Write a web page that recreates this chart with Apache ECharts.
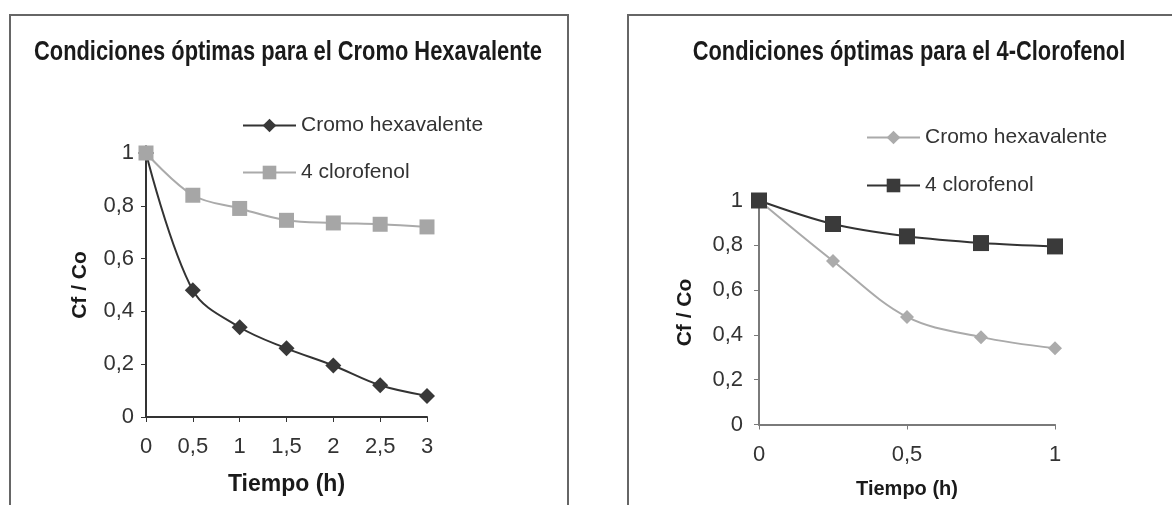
<!DOCTYPE html>
<html>
<head>
<meta charset="utf-8">
<script src="https://cdn.jsdelivr.net/npm/echarts@6/dist/echarts.min.js"></script>
<style>
  html, body { margin: 0; padding: 0; background: #fff; }
  #wrap { position: relative; width: 1172px; height: 505px; overflow: hidden; }
  #left { position: absolute; left: 0; top: 0; width: 586px; height: 505px; }
  #right { position: absolute; left: 586px; top: 0; width: 586px; height: 505px; }
</style>
</head>
<body>
<div id="wrap"><div id="left"></div><div id="right"></div></div>
<script>
// ---- data ----
const titleLeft = 'Condiciones óptimas para el Cromo Hexavalente';
const titleRight = 'Condiciones óptimas para el 4-Clorofenol';
const seriesNames = ['Cromo hexavalente', '4 clorofenol'];
const xName = 'Tiempo (h)';
const yName = 'Cf / Co';

const timeLeft = [0, 0.5, 1, 1.5, 2, 2.5, 3];
const cromoLeft = [1, 0.48, 0.34, 0.26, 0.195, 0.12, 0.08];
const cloroLeft = [1, 0.84, 0.79, 0.745, 0.735, 0.73, 0.72];

const timeRight = [0, 0.25, 0.5, 0.75, 1];
const cromoRight = [1, 0.73, 0.48, 0.39, 0.34];
const cloroRight = [1, 0.895, 0.84, 0.81, 0.795];

// ---- helpers ----
const pairs = (xs, ys) => xs.map((x, i) => [x, ys[i]]);
const fmt = v => String(Math.round(v * 100) / 100).replace('.', ',');
const BASE = '"Liberation Sans", Arial, sans-serif';

function build(cfg) {
  return {
    animation: false,
    graphic: [
      {
        type: 'rect',
        shape: { x: cfg.frame[0], y: 15, width: cfg.frame[1] - cfg.frame[0], height: 600 },
        style: { fill: 'none', stroke: '#666', lineWidth: 2 },
        silent: true
      },
      {
        type: 'text',
        x: cfg.titleX, y: 53,
        scaleX: 0.81,
        silent: true,
        style: {
          text: cfg.title,
          fontFamily: BASE, fontWeight: 'bold', fontSize: 27,
          fill: '#1a1a1a',
          align: 'center', verticalAlign: 'middle',
          textAlign: 'center', textVerticalAlign: 'middle'
        }
      }
    ],
    legend: {
      orient: 'vertical',
      left: cfg.legendX,
      top: cfg.legendY,
      itemWidth: 53,
      itemHeight: 17,
      itemGap: cfg.legendGap,
      padding: 0,
      data: seriesNames,
      textStyle: { fontFamily: BASE, fontSize: 21, color: '#333', lineHeight: 20 }
    },
    grid: { left: cfg.grid[0], top: cfg.grid[1], width: cfg.grid[2], height: cfg.grid[3], containLabel: false },
    xAxis: {
      type: 'value',
      min: 0, max: cfg.xMax, interval: 0.5,
      name: xName, nameLocation: 'middle', nameGap: cfg.xNameGap,
      nameTextStyle: { fontFamily: BASE, fontWeight: 'bold', fontSize: cfg.xNameSize, color: '#1a1a1a' },
      axisLine: { show: true, lineStyle: { color: cfg.axisColor, width: 2 } },
      axisTick: { show: true, length: 5, lineStyle: { color: cfg.axisColor, width: 1 } },
      axisLabel: { fontFamily: BASE, fontSize: 22, color: '#333', margin: cfg.xLabelMargin, formatter: fmt },
      splitLine: { show: false }
    },
    yAxis: {
      type: 'value',
      min: 0, max: 1, interval: 0.2,
      name: yName, nameLocation: 'middle', nameGap: cfg.yNameGap, nameRotate: 90,
      nameTextStyle: { fontFamily: BASE, fontWeight: 'bold', fontSize: 21, color: '#1a1a1a' },
      axisLine: { show: true, lineStyle: { color: cfg.axisColor, width: 2 } },
      axisTick: { show: true, length: 5, lineStyle: { color: cfg.axisColor, width: 1 } },
      axisLabel: { fontFamily: BASE, fontSize: 22, color: '#333', margin: cfg.yLabelMargin, formatter: fmt },
      splitLine: { show: false }
    },
    series: [
      {
        name: seriesNames[0], type: 'line', smooth: 0.35,
        data: pairs(cfg.x, cfg.cromo),
        symbol: 'diamond', symbolSize: cfg.cromoStyle.size,
        lineStyle: { color: cfg.cromoStyle.line, width: 2 },
        itemStyle: { color: cfg.cromoStyle.fill, borderWidth: 0 },
        z: 2
      },
      {
        name: seriesNames[1], type: 'line', smooth: 0.35,
        data: pairs(cfg.x, cfg.cloro),
        symbol: 'rect', symbolSize: cfg.cloroStyle.size,
        lineStyle: { color: cfg.cloroStyle.line, width: 2 },
        itemStyle: { color: cfg.cloroStyle.fill, borderWidth: 0 },
        z: 3
      }
    ]
  };
}

const leftChart = echarts.init(document.getElementById('left'), null, { renderer: 'canvas' });
leftChart.setOption(build({
  frame: [10, 568],
  title: titleLeft, titleX: 288,
  legendX: 242, legendY: 115, legendGap: 26,
  grid: [146, 153, 281, 264],
  xMax: 3, xNameGap: 56, xNameSize: 23, yNameGap: 55, yLabelMargin: 12, xLabelMargin: 19,
  axisColor: '#333',
  x: timeLeft, cromo: cromoLeft, cloro: cloroLeft,
  cromoStyle: { size: 16, line: '#333', fill: '#383838' },
  cloroStyle: { size: 15, line: '#aaa', fill: '#a6a6a6' }
}));

const rightChart = echarts.init(document.getElementById('right'), null, { renderer: 'canvas' });
rightChart.setOption(build({
  frame: [42, 700],
  title: titleRight, titleX: 323,
  legendX: 280, legendY: 127, legendGap: 27,
  grid: [173, 200.5, 296, 224],
  xMax: 1, xNameGap: 55, xNameSize: 20, yNameGap: 63, yLabelMargin: 16, xLabelMargin: 19,
  axisColor: '#7a7a7a',
  x: timeRight, cromo: cromoRight, cloro: cloroRight,
  cromoStyle: { size: 14, line: '#aaa', fill: '#ababab' },
  cloroStyle: { size: 16, line: '#333', fill: '#3a3a3a' }
}));
</script>
</body>
</html>
